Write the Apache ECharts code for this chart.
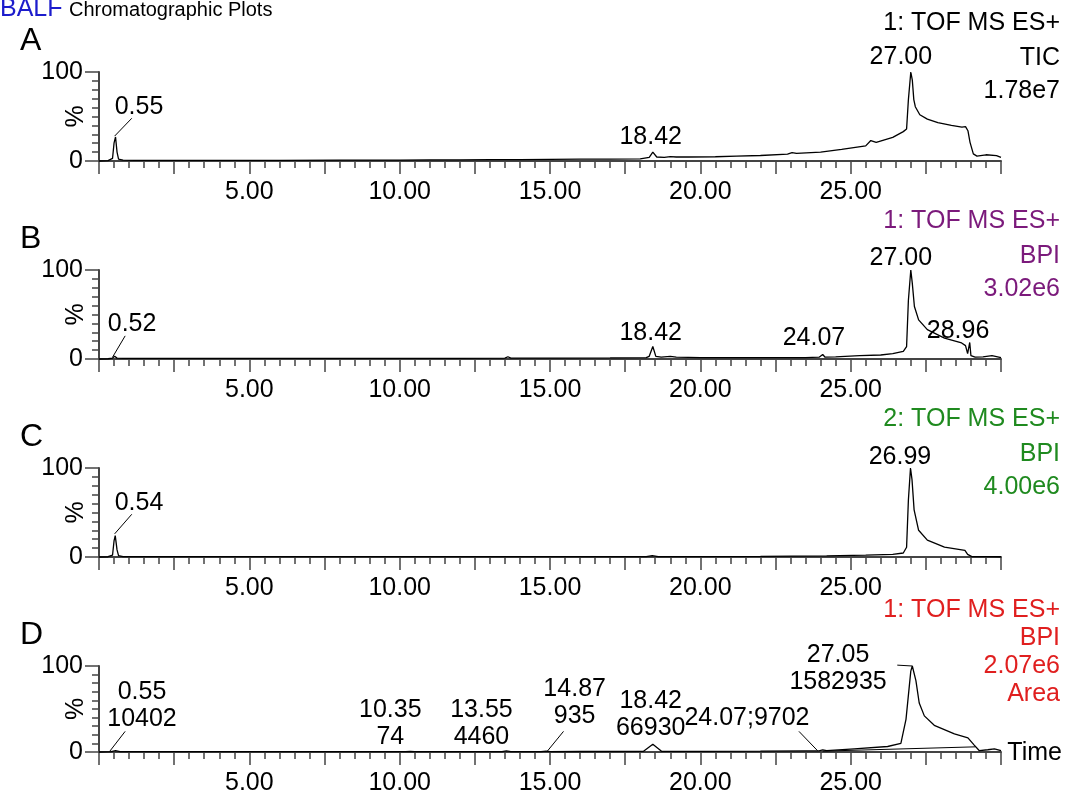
<!DOCTYPE html>
<html>
<head>
<meta charset="utf-8">
<script src="https://cdn.jsdelivr.net/npm/echarts@6/dist/echarts.min.js"></script>
<style>
html,body{margin:0;padding:0;background:#fff;}
#chart{width:1089px;height:796px;}
</style>
</head>
<body>
<div id="chart"></div>
<script>
// ---------------- DATA ----------------
// Retention time (min) and relative intensity (%) for each chromatogram
const tA = [0, 0.3, 0.45, 0.5, 0.55, 0.6, 0.65, 0.8, 1.2, 2, 4, 6, 8, 10, 11, 12, 13, 14, 15, 16, 17, 18.0, 18.3, 18.42, 18.55, 18.8, 19.0, 19.2, 19.6, 20.5, 21.2, 22.0, 22.9, 23.05, 23.2, 24.0, 24.7, 25.5, 25.67, 25.85, 26.4, 26.75, 26.86, 26.92, 27.0, 27.05, 27.1, 27.15, 27.3, 27.55, 27.9, 28.35, 28.7, 28.82, 28.9, 28.97, 29.08, 29.2, 29.5, 29.85, 30];
const pA = [0, 0.5, 3, 20, 27, 10, 2, 1, 0.8, 0.8, 0.8, 0.8, 0.9, 1, 1.2, 1.3, 1.5, 1.6, 1.8, 2, 2.2, 2.5, 4, 10, 4.5, 4, 5, 4.5, 4.5, 4.8, 5.5, 6.2, 7.7, 9.5, 8.5, 10, 13, 17, 23, 21, 26.5, 33, 36, 69, 100, 91, 69, 61, 52, 47, 43, 40, 38, 38.6, 34, 21, 8, 5.5, 7, 6, 4];

const tB = [0, 0.3, 0.45, 0.52, 0.6, 0.8, 2, 5, 8, 10, 12, 13.5, 13.6, 13.7, 15, 17, 18.2, 18.3, 18.42, 18.52, 18.7, 19.0, 19.2, 20, 22, 23.5, 23.95, 24.07, 24.15, 24.5, 25.3, 26.0, 26.4, 26.75, 26.86, 26.92, 27.0, 27.05, 27.12, 27.26, 27.55, 28.12, 28.69, 28.82, 28.89, 28.96, 29.0, 29.14, 29.4, 29.7, 30];
const pB = [0, 0.3, 1, 3, 1, 0.8, 0.7, 0.6, 0.7, 0.7, 0.8, 1, 2.5, 1, 1, 1.2, 1.5, 3, 14, 3, 2, 3, 2, 1.5, 1.5, 1.6, 2, 5, 2, 2.3, 3.7, 4.5, 6, 8.6, 14, 66, 100, 85, 59, 44, 33, 23.5, 18, 15, 6, 18.6, 3.7, 2, 2.5, 3.7, 1.5];

const tC = [0, 0.3, 0.45, 0.5, 0.54, 0.6, 0.65, 0.8, 3, 8, 13, 18.2, 18.4, 18.6, 22, 24.2, 25.5, 26.4, 26.75, 26.86, 26.92, 26.99, 27.04, 27.11, 27.26, 27.55, 28.12, 28.8, 28.89, 29.03, 29.5, 30];
const pC = [0, 0.3, 2, 18, 24, 8, 1.5, 0.5, 0.4, 0.4, 0.5, 0.5, 1.5, 0.5, 0.6, 1.2, 2, 3, 4.5, 11, 64, 100, 87, 53, 30, 19, 11, 7.5, 3, 0.5, 0.4, 0.3];

const tD = [0, 0.4, 0.55, 0.7, 1, 4, 8, 10.2, 10.35, 10.5, 12, 13.4, 13.55, 13.7, 14.7, 14.87, 15.0, 16, 18.1, 18.42, 18.72, 19, 20, 22, 23.5, 23.95, 24.07, 24.2, 25.12, 26.23, 26.67, 26.84, 27.0, 27.05, 27.17, 27.28, 27.45, 27.78, 28.45, 28.9, 29.11, 29.28, 29.56, 29.78, 30];
const pD = [0, 0.5, 1.5, 0.5, 0.4, 0.4, 0.4, 0.4, 0.8, 0.4, 0.5, 0.5, 1.2, 0.5, 0.5, 1, 0.5, 0.6, 0.7, 9, 0.7, 0.8, 0.8, 1, 1.2, 1.3, 2.5, 1.5, 3.7, 6.4, 10, 38, 94, 100, 83, 57, 42, 31, 21, 16.5, 8, 1.5, 2.6, 3.7, 1.5];
// integration baseline of the main peak in D: [time, %]
const dBaseT = [24.07, 29.15];
const dBaseP = [1, 6];

// peak annotation texts
const peaksA = ['0.55', '18.42', '27.00'];
const peaksB = ['0.52', '18.42', '24.07', '27.00', '28.96'];
const peaksC = ['0.54', '26.99'];
const peaksD = ['0.55\n10402', '10.35\n74', '13.55\n4460', '14.87\n935', '18.42\n66930', '24.07;9702', '27.05\n1582935'];

// trace headers
const headA = ['1: TOF MS ES+', 'TIC', '1.78e7'];
const headB = ['1: TOF MS ES+', 'BPI', '3.02e6'];
const headC = ['2: TOF MS ES+', 'BPI', '4.00e6'];
const headD = ['1: TOF MS ES+', 'BPI', '2.07e6', 'Area'];

const xTickLabels = ['5.00', '10.00', '15.00', '20.00', '25.00'];
const yTickLabels = ['0', '100'];

// ---------------- LAYOUT ----------------
const FONT = 'Liberation Sans, Arial, sans-serif';
const FS = 25;
const panelTops = [72, 270, 468, 666];
const panelH = 89;
const gridLeft = 99, gridRight = 88;
const headColors = ['#000', '#7b1a7b', '#1f8a1f', '#e01f1f'];
const letters = ['A', 'B', 'C', 'D'];

// label anchor positions in data units [time, %] (layout only)
const labPosA = [[1.33, 61], [18.35, 27], [26.67, 117]];
const labPosB = [[1.1, 39], [18.35, 29], [23.78, 24], [26.67, 113], [28.57, 31]];
const labPosC = [[1.33, 61], [26.64, 112]];
const labPosD = [[1.43, 54], [9.69, 33], [12.72, 33], [15.82, 57], [18.35, 44], [21.55, 39], [24.58, 97]];
// leader lines [[t1,p1],[t2,p2]]
const leadA = [[[1.09, 48], [0.52, 28]]];
const leadB = [[[0.87, 26], [0.45, 2]]];
const leadC = [[[1.09, 48], [0.52, 26]]];
const leadD = [[[0.87, 24], [0.35, 0.5]], [[15.45, 24], [14.9, 0.5]], [[23.28, 24], [23.9, 1.5]], [[26.55, 101], [27.05, 100]]];
// header line offsets relative to panel top
const headOffs3 = [-49, -14, 19];
const headOffs4 = [-56, -28, 0, 28];

const traces = [[tA, pA], [tB, pB], [tC, pC], [tD, pD]];
const labelTexts = [peaksA, peaksB, peaksC, peaksD];
const labelPos = [labPosA, labPosB, labPosC, labPosD];
const leaders = [leadA, leadB, leadC, leadD];
const heads = [headA, headB, headC, headD];

function zip(t, p) { return t.map((v, i) => [v, p[i]]); }

const grids = [], xAxes = [], yAxes = [], series = [];
const axisColor = '#444';
for (let i = 0; i < 4; i++) {
  grids.push({ left: gridLeft, right: gridRight, top: panelTops[i], height: panelH });
  xAxes.push({
    type: 'value', gridIndex: i, min: 0, max: 30, interval: 2.5,
    axisLine: { show: true, onZero: false, lineStyle: { color: axisColor, width: 2 } },
    axisTick: { show: true, length: 13, lineStyle: { color: axisColor, width: 1.5 } },
    minorTick: { show: true, splitNumber: 5, length: 7, lineStyle: { color: axisColor, width: 1.5 } },
    splitLine: { show: false },
    axisLabel: {
      margin: 19, color: '#000', fontFamily: FONT, fontSize: FS,
      formatter: v => { const s = v.toFixed(2); return xTickLabels.includes(s) ? s : ''; }
    }
  });
  yAxes.push({
    type: 'value', gridIndex: i, min: 0, max: 100, interval: 100,
    name: '%', nameLocation: 'middle', nameRotate: 90, nameGap: 10, nameMoveOverlap: false,
    nameTextStyle: { color: '#000', fontFamily: FONT, fontSize: FS },
    axisLine: { show: true, lineStyle: { color: axisColor, width: 2 } },
    axisTick: { show: true, length: 14, lineStyle: { color: axisColor, width: 1.5 } },
    minorTick: { show: true, splitNumber: 10, length: 7, lineStyle: { color: axisColor, width: 1.5 } },
    splitLine: { show: false },
    axisLabel: {
      margin: 16, color: '#000', fontFamily: FONT, fontSize: FS,
      formatter: v => yTickLabels.includes(String(v)) ? String(v) : ''
    }
  });
  series.push({
    type: 'line', xAxisIndex: i, yAxisIndex: i, data: zip(traces[i][0], traces[i][1]),
    showSymbol: false, symbol: 'none', lineStyle: { color: '#000', width: 1.3 },
    clip: false, silent: true, z: 3
  });
  // peak labels as invisible scatter points
  series.push({
    type: 'scatter', xAxisIndex: i, yAxisIndex: i, symbolSize: 0, clip: false, silent: true,
    itemStyle: { opacity: 0 },
    data: labelPos[i].map((p, k) => ({ value: p, name: labelTexts[i][k] })),
    label: {
      show: true, position: 'inside', formatter: p => p.name,
      color: '#000', opacity: 1, fontFamily: FONT, fontSize: FS, lineHeight: 27, align: 'center', verticalAlign: 'middle'
    },
    emphasis: { disabled: true }, z: 5
  });
  // leader lines
  leaders[i].forEach(seg => {
    series.push({
      type: 'line', xAxisIndex: i, yAxisIndex: i, data: seg, symbol: 'none', clip: false, silent: true,
      lineStyle: { color: '#000', width: 1 }, z: 4
    });
  });
}
// integration baseline in D
series.push({
  type: 'line', xAxisIndex: 3, yAxisIndex: 3, data: zip(dBaseT, dBaseP), symbol: 'none', silent: true,
  lineStyle: { color: '#000', width: 1 }, z: 3
});

// static text graphics
const graphic = [];
graphic.push({ type: 'text', x: 0, y: -3, style: { text: 'BALF', fill: '#1c1ccc', font: '25px ' + FONT } });
graphic.push({ type: 'text', x: 69, y: 0, style: { text: 'Chromatographic Plots', fill: '#000', font: '20px ' + FONT } });
for (let i = 0; i < 4; i++) {
  graphic.push({
    type: 'text', x: 20, y: panelTops[i] - 47,
    style: { text: letters[i], fill: '#000', font: '32px ' + FONT }
  });
  const h = heads[i];
  const offs = h.length > 3 ? headOffs4 : headOffs3;
  h.forEach((s, k) => {
    graphic.push({
      type: 'text', x: 1060, y: panelTops[i] + offs[k],
      style: { text: s, fill: headColors[i], font: FS + 'px ' + FONT, textAlign: 'right', textVerticalAlign: 'middle' }
    });
  });
}
graphic.push({ type: 'text', x: 1062, y: 753, style: { text: 'Time', fill: '#000', font: FS + 'px ' + FONT, textAlign: 'right', textVerticalAlign: 'middle' } });

const chart = echarts.init(document.getElementById('chart'), null, { renderer: 'canvas' });
chart.setOption({
  animation: false,
  backgroundColor: '#fff',
  grid: grids, xAxis: xAxes, yAxis: yAxes, series: series, graphic: graphic
});
</script>
</body>
</html>
